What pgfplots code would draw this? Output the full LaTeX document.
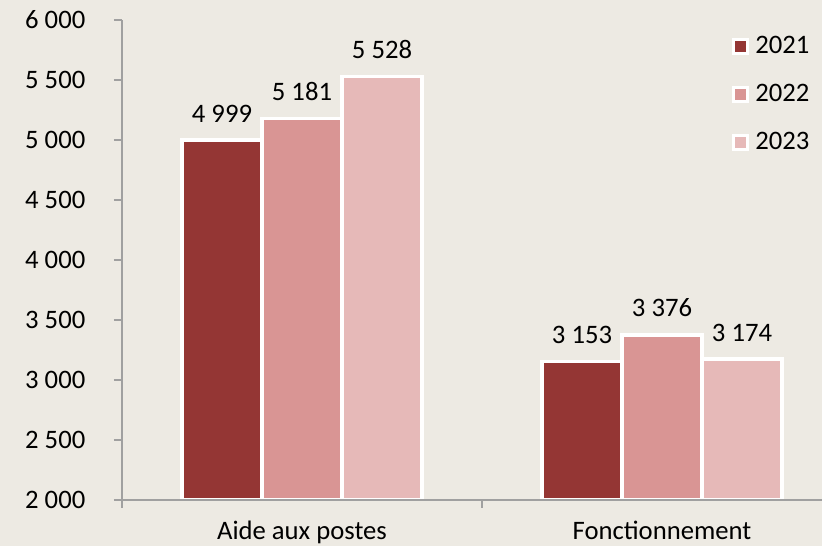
\documentclass[border=0pt]{standalone}
\usepackage{pgfplots}
\pgfplotsset{compat=1.18}
\usepackage{fontspec}
\setmainfont{Carlito}
\definecolor{bg}{HTML}{EDEAE3}
\definecolor{c1}{HTML}{943634}
\definecolor{c2}{HTML}{D99594}
\definecolor{c3}{HTML}{E6B9B8}
\definecolor{axgray}{HTML}{A0A0A0}
\pgfplotsset{myleg/.style={legend image code/.code={\draw[##1, draw=white, line width=2.25pt] (0pt,-5.25pt) rectangle (10.5pt,5.25pt);}}}
\begin{document}
\begin{tikzpicture}[font=\fontsize{20}{24}\selectfont]
\fill[bg] (-91.5pt,-34.5pt) rectangle (525pt,375pt);
\begin{axis}[
 at={(0,0)}, anchor=south west,
 scale only axis, width=540pt, height=360pt,
 xmin=0, xmax=2, ymin=2000, ymax=6000,
 ytick={2000,2500,...,6000},
 xtick={0.5,1.5}, xticklabels={Aide aux postes, Fonctionnement},
 minor xtick={0,1,2},
 major x tick style={draw=none},
 axis x line*=bottom, axis y line*=left,
 tick align=outside, major tick length=6pt, minor tick length=6pt,
 axis line style={axgray, line width=0.9pt},
 every tick/.style={axgray, line width=0.9pt},
 axis on top,
 ybar=0pt, bar width=60pt,
 nodes near coords,
 every node near coord/.append style={black, inner sep=3pt, yshift=9pt},
 yticklabel style={xshift=-18pt},
 xticklabel style={yshift=-6pt},
 /pgf/number format/1000 sep={\ },
 /pgf/number format/assume math mode=true,
 legend style={at={(0.97,0.977)}, anchor=north east, draw=none, fill=none,
   row sep=17.5pt, legend cell align=left,
   nodes={inner xsep=5pt}},
]
\addplot[fill=c1, draw=white, line width=2.6pt, myleg] coordinates {(0.5,4999) (1.5,3153)};
\addplot[fill=c2, draw=white, line width=2.6pt, myleg] coordinates {(0.5,5181) (1.5,3376)};
\addplot[fill=c3, draw=white, line width=2.6pt, myleg] coordinates {(0.5,5528) (1.5,3174)};
\legend{2021,2022,2023}
\end{axis}
\pgfresetboundingbox
\path (-91.5pt,-34.5pt) rectangle (525pt,375pt);
\end{tikzpicture}
\end{document}
